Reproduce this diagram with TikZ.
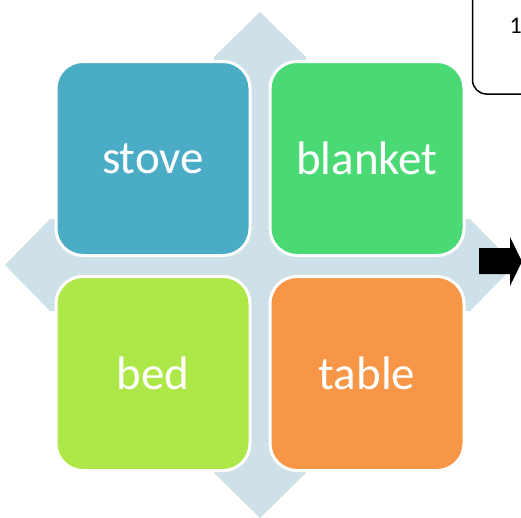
\documentclass[tikz,border=0pt]{standalone}
\usepackage{fontspec}
\setmainfont{Carlito}
\definecolor{crossblue}{RGB}{206,224,232}
\definecolor{cstove}{RGB}{75,172,198}
\definecolor{cblanket}{RGB}{74,217,116}
\definecolor{cbed}{RGB}{173,232,72}
\definecolor{ctable}{RGB}{247,150,70}
\tikzset{
  cell/.style={draw=white, line width=3pt, rounded corners=27pt, minimum width=194pt, minimum height=194pt, inner sep=0pt, text=white, font=\fontsize{47}{52}\selectfont, anchor=center},
  numtext/.style={anchor=base east, inner sep=0pt, font=\fontsize{24}{28}\selectfont},
}
\begin{document}
\begin{tikzpicture}[x=1pt,y=-1pt]
\useasboundingbox (0,0) rectangle (521,517);
\clip (0,0) rectangle (521,517);
% quad arrow background
\fill[crossblue] (260,12) -- (306,57) -- (306,219) -- (470,219) -- (515,265) -- (470,311) -- (306,311) -- (306,473) -- (260,518) -- (214,473) -- (214,311) -- (50,311) -- (5,265) -- (50,219) -- (214,219) -- (214,57) -- cycle;
% cells
\node[cell, fill=cstove]   (stove)   at (153,158.5) {stove};
\node[cell, fill=cblanket] (blanket) at (367,158.5) {blanket};
\node[cell, fill=cbed]     (bed)     at (153,373.5) {bed};
\node[cell, fill=ctable]   (table)   at (367,373.5) {table};
% black arrow
\fill[black] (479,248) -- (510,248) -- (510,237) -- (522,261.5) -- (510,286) -- (510,274) -- (479,274) -- cycle;
% top-right box
\draw[black, line width=1.5pt, rounded corners=14pt] (600,-20) -- (472.5,-20) -- (472.5,94) -- (600,94);
\node[numtext] (one) at (522,33) {1};
\end{tikzpicture}
\end{document}
